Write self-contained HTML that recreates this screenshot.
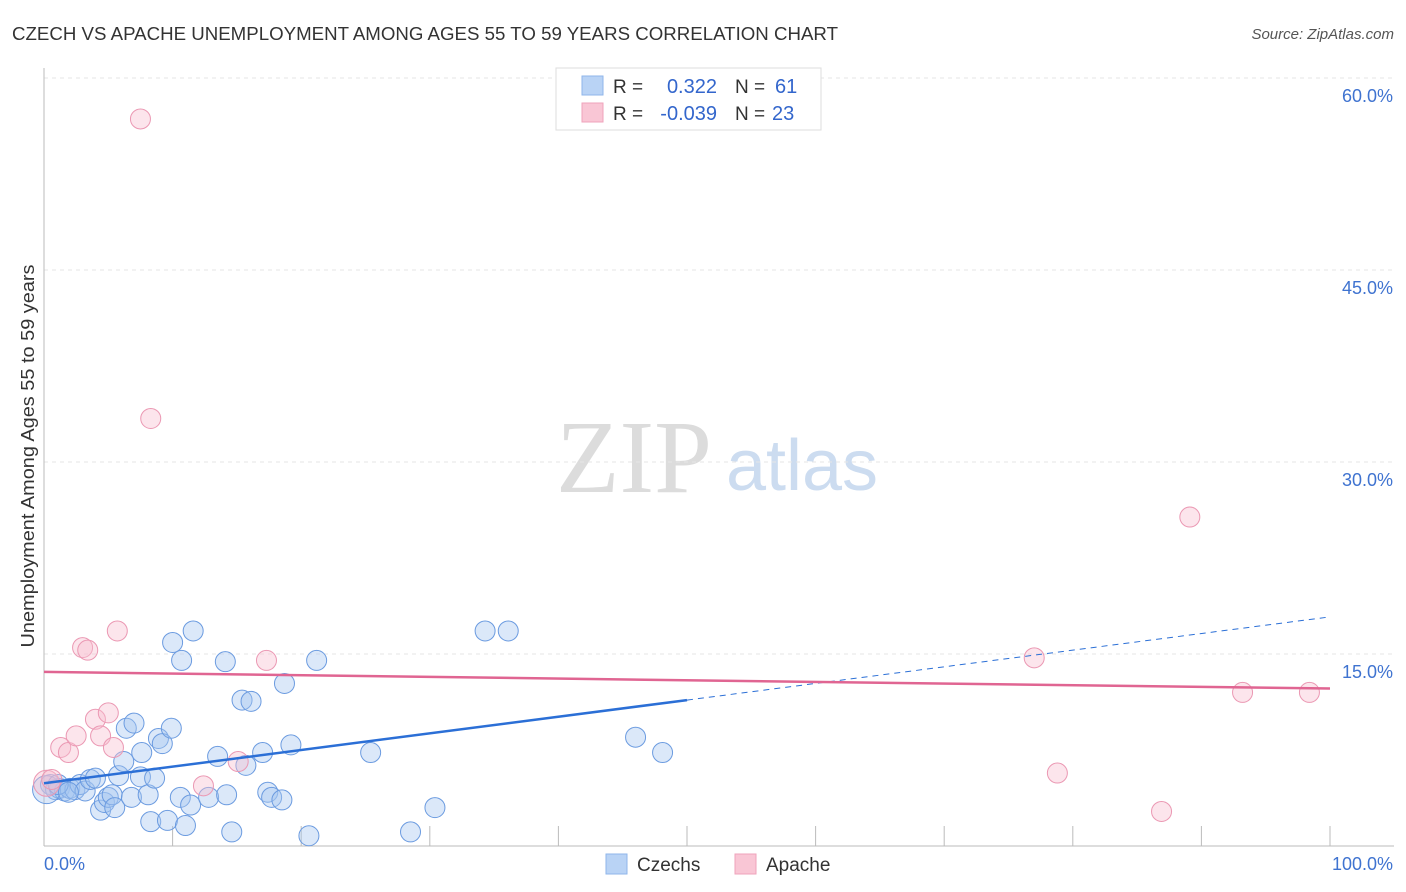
<!DOCTYPE html>
<html><head><meta charset="utf-8"><style>
body{margin:0;background:#fff;font-family:"Liberation Sans",sans-serif;}
svg{display:block}
</style></head><body>
<svg id="chart" width="1406" height="892">
<text x="12" y="40" font-size="18" fill="#333" textLength="826" lengthAdjust="spacingAndGlyphs">CZECH VS APACHE UNEMPLOYMENT AMONG AGES 55 TO 59 YEARS CORRELATION CHART</text>
<text x="1394" y="39" font-size="15" fill="#555" text-anchor="end" font-style="italic">Source: ZipAtlas.com</text>
<text x="634" y="492" font-size="104" fill="#dcdcdc" font-family="Liberation Serif,serif" text-anchor="middle">ZIP</text>
<text x="802" y="490" font-size="72" fill="#ccdcf0" text-anchor="middle">atlas</text>
<text transform="translate(34,456) rotate(-90)" font-size="18" fill="#333" text-anchor="middle" textLength="383" lengthAdjust="spacingAndGlyphs">Unemployment Among Ages 55 to 59 years</text>
<g id="grid"></g><g id="pts"></g><g id="trend"></g>
<g>
<rect x="556" y="68" width="265" height="62" fill="#fff" stroke="#ddd"/>
<rect x="582" y="76" width="21" height="19" fill="#b9d3f5" stroke="#8fb6ea"/>
<rect x="582" y="103" width="21" height="19" fill="#f9c6d5" stroke="#efa3bb"/>
<text x="613" y="93" font-size="19" fill="#333">R = </text><text x="717" y="93" font-size="20" fill="#3366cc" text-anchor="end">0.322</text>
<text x="735" y="93" font-size="19" fill="#333">N = </text><text x="775" y="93" font-size="20" fill="#3366cc">61</text>
<text x="613" y="120" font-size="19" fill="#333">R = </text><text x="717" y="120" font-size="20" fill="#3366cc" text-anchor="end">-0.039</text>
<text x="735" y="120" font-size="19" fill="#333">N = </text><text x="772" y="120" font-size="20" fill="#3366cc">23</text>
</g>
<g>
<rect x="606" y="854" width="21" height="20" fill="#b9d3f5" stroke="#8fb6ea"/>
<text x="637" y="871" font-size="19" fill="#333">Czechs</text>
<rect x="735" y="854" width="21" height="20" fill="#f9c6d5" stroke="#efa3bb"/>
<text x="766" y="871" font-size="19" fill="#333">Apache</text>
</g>
</svg>
<script>
const yTicks=[15,30,45,60];
const yTickLabels=["15.0%","30.0%","45.0%","60.0%"];
const xTicks=[0,10,20,30,40,50,60,70,80,90,100];
const czX=[0.5,0.9,1.2,1.6,2.0,2.4,2.8,3.2,3.6,4.0,4.4,4.7,5.0,5.3,5.5,5.8,6.2,6.4,6.8,7.0,7.5,7.6,8.1,8.3,8.6,8.9,9.2,9.6,9.9,10.0,10.6,10.7,11.0,11.4,11.6,12.8,13.5,14.1,14.2,14.6,15.4,15.7,16.1,17.0,17.4,17.7,18.5,18.7,19.2,20.6,21.2,25.4,28.5,30.4,34.3,36.1,46.0,48.1,0.2,1.1,1.9];
const czY=[4.8,4.4,4.5,4.3,4.5,4.4,4.8,4.3,5.2,5.3,2.8,3.4,3.8,4.0,3.0,5.5,6.6,9.2,3.8,9.6,5.4,7.3,4.0,1.9,5.3,8.4,8.0,2.0,9.2,15.9,3.8,14.5,1.6,3.2,16.8,3.8,7.0,14.4,4.0,1.1,11.4,6.3,11.3,7.3,4.2,3.8,3.6,12.7,7.9,0.8,14.5,7.3,1.1,3.0,16.8,16.8,8.5,7.3,4.4,4.8,4.2];
const apX=[0.2,7.5,8.3,1.3,1.9,2.5,3.0,3.4,4.0,4.4,5.0,5.4,5.7,12.4,15.1,17.3,77.0,78.8,86.9,89.1,93.2,98.4,0.6];
const apY=[4.9,56.8,33.4,7.7,7.3,8.6,15.5,15.3,9.9,8.6,10.4,7.7,16.8,4.7,6.6,14.5,14.7,5.7,2.7,25.7,12.0,12.0,5.2];
const czTrend=[4.9,17.9];
const apTrend=[13.6,12.3];
const NS="http://www.w3.org/2000/svg";
const X=v=>44+v*12.86, Y=v=>846-v*12.8;
function mk(t,a,p){const e=document.createElementNS(NS,t);for(const k in a)e.setAttribute(k,a[k]);p.appendChild(e);return e;}
const g=document.getElementById('grid');
yTicks.forEach((t,i)=>{
 const l=mk('line',{x1:44,x2:1394,y1:Y(t),y2:Y(t),stroke:'#e6e6e6','stroke-dasharray':'4,4'},g);
 
 
 const tx=mk('text',{x:1393,y:Y(t)+24,'font-size':18,fill:'#3f73d0','text-anchor':'end'},g);
 tx.textContent=yTickLabels[i];
 
 
});
const ax=mk('line',{x1:44,x2:44,y1:68,y2:846,stroke:'#bbb'},g);


const bx=mk('line',{x1:44,x2:1394,y1:846,y2:846,stroke:'#bbb'},g);


xTicks.forEach(t=>{
 const l=mk('line',{x1:X(t),x2:X(t),y1:826,y2:846,stroke:'#bbb'},g);
 
 
});
[[0,"0.0%","start",44],[100,"100.0%","end",1393]].forEach(d=>{
 const tx=mk('text',{x:d[3],y:870,'font-size':18,fill:'#3f73d0','text-anchor':d[2]},g);
 tx.textContent=d[1];
 
 
});
const p=document.getElementById('pts');
czX.forEach((x,i)=>{
 const c=mk('circle',{cx:X(x),cy:Y(czY[i]),r:i==58?14:10,fill:'rgba(165,198,240,0.4)',stroke:'#6b9be0','stroke-width':1},p);
 
 
});
apX.forEach((x,i)=>{
 const c=mk('circle',{cx:X(x),cy:Y(apY[i]),r:i==0?13:10,fill:'rgba(248,190,208,0.4)',stroke:'#eb98b3','stroke-width':1},p);
 
 
});
const tr=document.getElementById('trend');
const cz=v=>czTrend[0]+(czTrend[1]-czTrend[0])*v/100;
const l1=mk('line',{x1:X(0),y1:Y(cz(0)),x2:X(50),y2:Y(cz(50)),stroke:'#2b6fd6','stroke-width':2.5},tr);


const l2=mk('line',{x1:X(50),y1:Y(cz(50)),x2:X(100),y2:Y(cz(100)),stroke:'#2b6fd6','stroke-width':1,'stroke-dasharray':'6,5'},tr);


const l3=mk('line',{x1:X(0),y1:Y(apTrend[0]),x2:X(100),y2:Y(apTrend[1]),stroke:'#e06592','stroke-width':2.5},tr);


</script>
</body></html>
